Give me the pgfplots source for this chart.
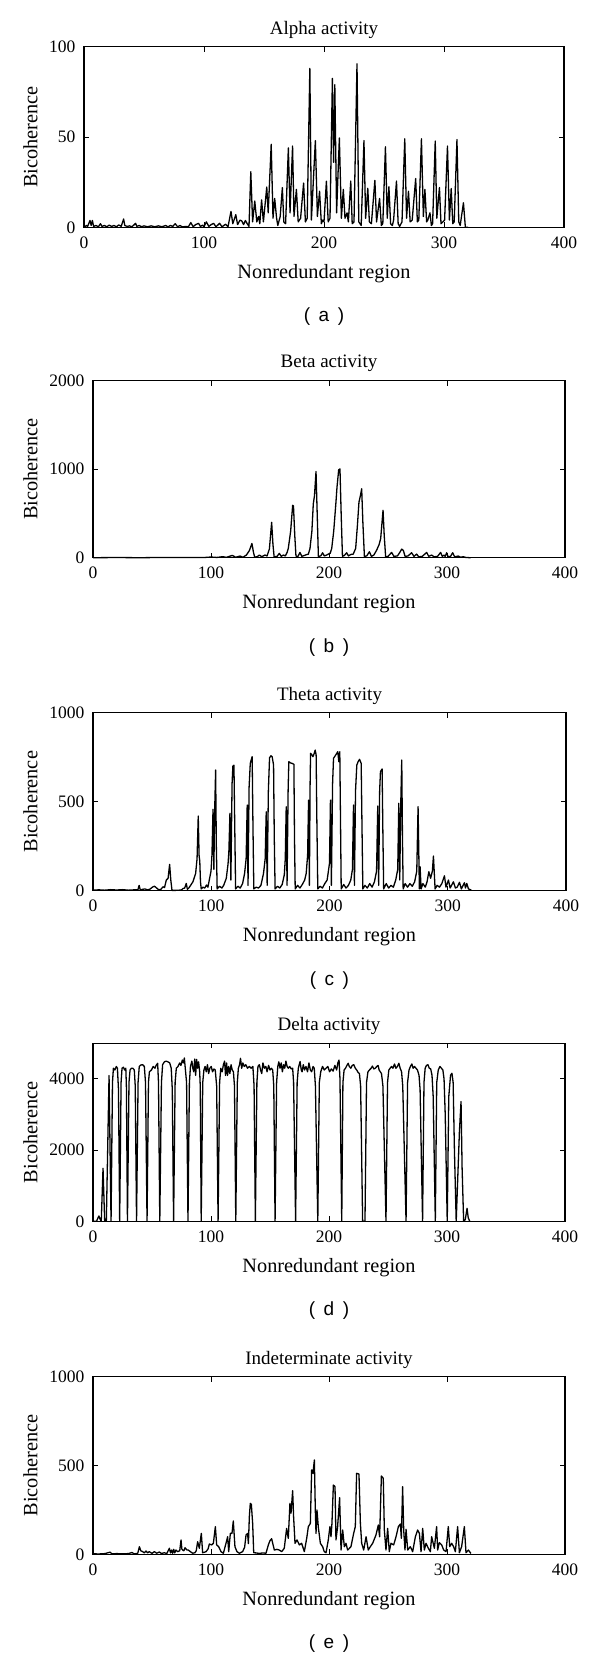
\documentclass[border=0pt]{standalone}
\usepackage{fontspec}
\setmainfont{Liberation Serif}
\newfontfamily\capfont{Liberation Sans}
\usepackage{pgfplots}
\pgfplotsset{compat=1.18}
\pgfplotsset{
 myaxis/.style={
  scale only axis,
  xmin=0, xmax=400, ymin=0,
  xtick={0,100,200,300,400},
  tick align=inside,
  axis line style={line width=1.1pt},
  every tick/.style={black, line width=0.9pt},
  major tick length=5pt,
  tick label style={font=\fontsize{17.5}{20}\selectfont},
  /pgf/number format/assume math mode=true,
  /pgf/number format/1000 sep={},
  scaled ticks=false,
  xlabel={Nonredundant region},
  ylabel={Bicoherence},
  every axis title/.style={at={(axis description cs:0.5,1)}, anchor=center, yshift=17pt},
  every axis x label/.style={at={(axis description cs:0.5,0)}, anchor=center, yshift=-46pt, font=\fontsize{20.3}{23}\selectfont},
  xticklabel style={yshift=-3pt},
  yticklabel style={xshift=-2pt},
  clip=false,
 },
 ylab/.style={every axis y label/.style={at={(axis description cs:0,0.5)}, anchor=center, xshift=-#1, rotate=90, font=\fontsize{20.3}{23}\selectfont}},
 dataline/.style={black, line width=1.3pt, line join=round},
}
\newcommand{\subcap}[2]{\node[font=\capfont\fontsize{19}{22}\selectfont] at ([yshift=-89.5pt]#1.south) {(\hspace{8.5pt}#2\hspace{8.5pt})};}
\begin{document}
\fontsize{19}{22}\selectfont
\begin{tikzpicture}
\path[use as bounding box] (0pt,0pt) rectangle (600pt,-1658pt);

% (a) Alpha
\begin{axis}[myaxis, name=pa, at={(84pt,-227.3pt)}, anchor=south west, width=480pt, height=180.6pt,
  ymax=100, ytick={0,50,100}, title={Alpha activity}, ylab=53.5pt]
\addplot[dataline] coordinates {
(0,0) (2,1) (3,0.5) (5,3.8) (6,1) (7,3.8) (8,0.5) (10,1) (12,0.3) (13.7,2) (15,0.5) (17,1) (19,0.3) (21,1.2) (23,0.5) (25,1) (27,0.3) (29,1.3) (31,0.5) (33,4.6) (34,1) (36,0.5) (38,0.8) (40,0.3) (43,2.2) (44,0.5) (46,1) (48,0.3) (50,0.8) (53,0.3) (56,0.8) (59,0.3) (62,0.8) (65,0.3) (68,1) (70,0.3) (72,1) (74,0.5) (76,2) (78,0.3) (80,1) (82,0.2) (85,0.5) (87,0.3) (89,2.6) (91,0.3) (93,1.5) (95.5,2.2) (97,0.5) (99,1.2) (100,0.3) (102,3) (104,0.5) (106,1.5) (108,2.2) (110,0.3) (113,2.2) (115,0.3) (118,1.7) (120,0.3) (122.5,8.8) (124,2) (126.5,7) (128,1.5) (130,4) (131.5,3.5) (133,1.5) (134.5,3.8) (136,2) (137.5,0.5)
(139,30.8) (140.5,3) (142.3,14.6) (144,3) (145.5,6) (146.5,2) (148,15.2) (149.5,3) (152.3,22.3) (153.5,8) (156,46) (157.5,5) (158.9,16) (160.5,5) (161.5,1) (163.5,6) (165.3,22) (166.5,3) (168,2) (170.3,44) (171.7,8) (173.8,45) (175,6) (177,21) (178.5,3) (180.5,5) (183,24.5) (184.5,3) (186,5) (188.2,88) (189.5,4) (192.8,48) (194.5,6) (196.3,20) (197.8,2) (199,4) (200,3) (202,25.5) (203.5,3) (205,5) (207,82.5) (208,36) (209,79) (210.5,8) (212.8,49.5) (214.5,5) (216.1,21) (217.5,5) (219.2,8) (220.3,3) (222.3,25.6) (223.5,2) (225,3) (227.5,90.5) (229,3) (231,1) (233.3,48) (234.7,5) (236.5,21.6) (237.8,3) (239.5,2) (242.4,26) (243.8,3) (246.3,16) (247.8,1) (249,2) (251.2,44.6) (252.7,5) (254.1,22.5) (255.5,2) (257,1) (258,4) (260.4,25.6) (261.8,2) (263,0.5) (265,3) (267.3,49) (268.8,5) (270.4,20) (271.8,3) (273.5,4) (276.4,27) (277.8,3) (279,4) (281.2,49) (282.8,6) (284.1,21) (285.5,3) (286.5,4) (288.3,8) (289.5,1) (290.5,2) (292.7,47.8) (294,5) (296.2,22) (297.5,2) (299,3) (300.5,4) (302.9,45) (304.5,4) (306,21.5) (307.3,2) (308.5,3) (310.8,48.6) (312.3,3) (313.5,1) (316.2,13.6) (317.8,0) (320,0)
};
\end{axis}
\subcap{pa}{a}

% (b) Beta
\begin{axis}[myaxis, name=pb, at={(93pt,-557.7pt)}, anchor=south west, width=472pt, height=177pt,
  ymax=2000, ytick={0,1000,2000}, title={Beta activity}, ylab=62.5pt]
\addplot[dataline] coordinates {
(0,0) (20,2) (40,0) (60,3) (80,2) (95,3) (100,8) (105,3) (110,12) (113,4) (118,26) (121,5) (124.6,19) (127,5) (130,30) (132.5,80) (134.7,161) (136,60) (137,8) (139,10) (141,30) (143,12) (145.8,30) (147.5,20) (149.5,100) (151.4,400) (152.5,150) (153.5,10) (156,15) (157.9,49) (159.5,15) (161.3,30) (163,20) (164.5,60) (165.5,105) (167.5,300) (169.2,592) (169.9,584) (171,250) (172,20) (173.5,10) (175.4,60) (177,15) (179,25) (181,35) (182.5,40) (183.9,105) (185.5,300) (186.7,610) (187.7,700) (189,974) (190.2,400) (191,15) (193,20) (194.6,56) (196,20) (198,30) (200,45) (201,50) (202.3,105) (204,300) (205.9,629) (206.8,800) (208.2,992) (209.3,1004) (210.3,500) (211.4,15) (213,25) (215,56) (216.5,20) (218.5,37) (220.5,40) (222.6,105) (224,350) (225.4,629) (226.6,700) (227.7,779) (228.7,400) (230,15) (232,20) (234.2,67) (236,15) (238,30) (240.4,86) (242.5,150) (243.8,217) (245.8,536) (246.8,250) (248,10) (250,15) (253.1,60) (255,15) (258,20) (260,60) (261.6,97) (263,82) (264.5,15) (267,20) (270,56) (272,15) (274.3,41) (276,10) (279,15) (282.8,60) (284.5,15) (287,30) (289,10) (292,15) (294.6,60) (296,15) (297.5,30) (298.5,15) (299.7,56) (301,10) (303,15) (304.8,56) (306.5,10) (309.6,19) (311.5,5) (313.8,11) (316,3) (319.5,0) (320,0)
};
\end{axis}
\subcap{pb}{b}

% (c) Theta
\begin{axis}[myaxis, name=pc, at={(93pt,-890.7pt)}, anchor=south west, width=473pt, height=178pt,
  ymax=1000, ytick={0,500,1000}, title={Theta activity}, ylab=62.5pt]
\addplot[dataline] coordinates {
(0,3) (5,5) (10,3) (15,6) (20,4) (25,6) (30,3) (35,5) (38,6) (39,30) (40,4) (42,8) (44,10) (46,5) (48,8) (50.7,22) (52,25) (53.5,17) (55,8) (57,5) (59.2,22) (60.5,18) (62,60) (63.5,70) (64.8,148) (65.8,60) (66.8,2) (70,2) (73,3) (75,5) (76,12) (77.5,15) (78.9,41) (79.8,8) (81,15) (82.5,30) (84.5,50) (86.8,97) (88,180) (89,420) (89.7,200) (90.3,165) (90.9,50) (91.5,10) (93,20) (94.5,15) (96,32) (97.2,20) (98.6,69) (99.8,110) (100.6,200) (101.5,457) (102.2,120) (102.9,450) (103.7,678) (104.3,250) (105,10) (107,25) (109,15) (110.5,30) (112.7,69) (114.2,150) (114.9,219) (115.8,435) (116.6,60) (117.6,600) (118.3,700) (119.2,705) (119.9,350) (120.6,10) (122.5,25) (124.5,15) (126.5,40) (128.2,97) (129.5,180) (130.4,481) (131.1,30) (132,580) (133,715) (134,740) (134.6,753) (135.3,350) (136,10) (138,20) (140,15) (142,30) (144.2,97) (145.6,180) (146.5,444) (147.3,30) (148.3,560) (149.3,747) (150.5,758) (151.5,753) (152.7,706) (153.3,300) (154,10) (156,25) (158,15) (160,35) (161.8,90) (162.6,180) (163.4,472) (164.1,30) (165,560) (165.6,725) (167,718) (168.5,715) (169.9,710) (170.4,300) (171,10) (173,30) (175,15) (177,35) (179,60) (180.3,97) (181.5,200) (182.3,509) (183,30) (183.6,600) (184,772) (185,765) (186,753) (187,770) (187.9,790) (188.7,762) (189.3,400) (190.1,10) (192,25) (194,15) (196,40) (198,60) (200,154) (200.8,509) (201.6,30) (202.6,600) (203.4,744) (204.5,755) (205.6,766) (207,781) (207.9,725) (208.7,781) (209.3,400) (209.9,10) (212,35) (214,15) (216,30) (218,60) (219.4,120) (220.3,481) (221.1,30) (222,560) (223.1,706) (224.2,725) (225.4,738) (226.8,715) (227.5,350) (228.2,10) (230,30) (232,15) (234,40) (236,20) (238,50) (239.8,110) (240.8,476) (241.6,30) (242.4,560) (243.1,669) (244.5,684) (245.1,350) (245.8,10) (248,40) (250,15) (252,30) (254,20) (256,60) (257.7,120) (258.6,491) (259.4,60) (260.3,500) (261.1,734) (261.7,300) (262.3,10) (264,40) (266,20) (268,40) (270,25) (272,50) (273.8,110) (274.9,472) (276,10) (276.6,135) (277.5,10) (279,40) (281,20) (282.5,50) (284,107) (285.5,70) (287,110) (287.9,195) (289.3,10) (291,30) (293,20) (295,40) (297.2,84) (298.5,20) (300.6,60) (302,15) (304.8,50) (306.5,15) (308,20) (309.9,47) (311.5,10) (314.1,45) (315,15) (316.1,41) (317.5,10) (318.3,8) (320,3)
};
\end{axis}
\subcap{pc}{c}

% (d) Delta
\begin{axis}[myaxis, name=pd, at={(93pt,-1221.3pt)}, anchor=south west, width=472pt, height=178pt,
  ymax=5000, ytick={0,2000,4000}, title={Delta activity}, ylab=62.5pt]
\addplot[dataline] coordinates {
(0,0) (3,0) (4,80) (5,150) (6,60) (7,0) (8.5,1490) (9.9,0) (11.3,0) (13.6,4095) (15.3,0)
(16.5,3900) (17.3,4300) (18.5,4250) (19.8,4350) (20.7,4300) (21.6,3700) (22.6,0)
(23.8,3900) (24.6,4300) (25.8,4330) (26.8,4250) (27.8,4300) (28.3,3800) (29.2,0)
(30.5,3900) (31.4,4250) (32.5,4300) (33.8,4300) (35,4250) (35.8,3800) (36.9,0)
(38.2,3900) (39.2,4350) (40.5,4390) (42,4400) (43.5,4350) (44.5,3900) (45.8,0)
(47,3900) (47.8,4200) (49.5,4250) (51,4350) (52.5,4300) (53.5,4380) (54.8,4440) (55.5,3900) (56.6,0)
(58,3900) (59,4400) (60.5,4480) (62,4500) (63.5,4480) (65,4450) (66.3,4300) (67.2,3700) (68.3,0)
(69.6,3900) (70.6,4300) (72,4350) (73.5,4450) (74.5,4380) (75.7,4530) (76.6,4450) (77.4,4590) (78.2,4300) (79.3,3900) (80.5,0)
(81.7,3900) (82.6,4350) (83.8,4500) (84.6,4300) (85.4,4200) (86.2,4560) (87,4100) (87.8,4550) (88.6,4300) (89.5,4480) (90.4,4200) (90.9,3800) (91.7,0)
(93,3900) (94,4250) (95,4350) (96,4200) (97,4400) (98,4150) (99,4300) (100.2,4350) (101.3,4200) (102.5,4280) (103.6,4250) (104.8,3800) (106,0)
(107.3,3900) (108.3,4300) (109.5,4200) (110.5,4400) (111.5,4500) (112.3,4100) (113.2,4450) (114,4100) (115,4350) (116,4150) (117,4400) (118,4250) (119,4200) (119.9,3800) (121,0)
(122.3,3900) (123.2,4300) (124.2,4400) (125,4580) (126,4300) (127,4450) (128.2,4350) (129.5,4400) (131,4300) (132.5,4350) (134,4300) (135.5,4350) (136.5,3800) (137.6,0)
(138.9,3900) (139.8,4350) (141,4400) (142,4250) (143,4150) (144,4450) (145.2,4300) (146.5,4350) (147.5,4200) (148.8,4380) (150,4250) (151.2,4300) (152.3,4250) (153.2,3800) (154.3,0)
(155.6,3900) (156.6,4350) (157.5,4480) (158.5,4300) (159.5,4450) (160.5,4200) (161.5,4400) (162.5,4300) (163.5,4500) (164.5,4350) (165.5,4300) (166.7,4350) (168,4280) (169.2,4300) (170,3900) (171.7,0)
(173,3900) (174,4300) (175.5,4490) (176.5,4250) (177.2,4200) (178.2,4400) (179.3,4250) (180.5,4350) (181.8,4200) (183,4450) (184.2,4250) (185.3,4200) (186.5,4350) (187.5,4300) (188.5,3800) (190.5,0)
(191.8,3900) (193,4200) (194.5,4350) (196,4250) (197.5,4300) (199,4350) (200.5,4200) (202,4280) (203.5,4220) (205,4380) (206.5,4250) (207.5,4450) (208.5,4530) (209.3,4000) (210.8,0)
(211.8,3900) (212.8,4250) (214,4300) (215.2,4380) (216.3,4440) (217.2,4350) (218.5,4300) (219.7,4380) (221,4400) (222.3,4300) (223.5,4250) (224.7,4180) (225.8,4150) (226.8,3800) (228.5,0) (230.5,0)
(231.8,3900) (233,4200) (234.5,4260) (235.7,4300) (236.8,4360) (238,4280) (239.2,4300) (240.5,4350) (241.6,4380) (242.5,4250) (243.5,4200) (244.5,4150) (245.7,3800) (248.3,0)
(249.6,3900) (250.7,4250) (251.8,4300) (253,4350) (254.2,4300) (255.5,4420) (256.7,4300) (258,4350) (259.2,4440) (260.3,4300) (261.5,4200) (262.5,3800) (265.3,0)
(266.6,3900) (267.8,4250) (269,4350) (270.2,4420) (271.3,4300) (272.5,4350) (273.7,4300) (275,4250) (276.3,4100) (277.2,3700) (279.3,0)
(280.5,3900) (281.5,4300) (282.6,4380) (283.8,4400) (285,4300) (286.2,4280) (287.3,4100) (288.3,3500) (290.1,0)
(291.3,3900) (292.6,4250) (294,4350) (295.3,4300) (296.5,4250) (297.5,4000) (298.5,3000) (300.2,0)
(301.5,3500) (303,4100) (304.2,4160) (305.2,3900) (306.3,2000) (307.8,0) (310.5,2500) (311.9,3364) (312.8,1500) (314.1,0) (315.5,50) (317,365) (318,100) (319.3,0)
};
\end{axis}
\subcap{pd}{d}

% (e) Indeterminate
\begin{axis}[myaxis, name=pe, at={(93pt,-1554.3pt)}, anchor=south west, width=472pt, height=177.6pt,
  ymax=1000, ytick={0,500,1000}, title={Indeterminate activity}, ylab=62.5pt]
\addplot[dataline] coordinates {
(0,3) (5,2) (10,4) (14.5,12) (16,3) (20,4) (25,3) (30,4) (33,10) (35,3) (37.9,5) (39.3,43) (40.5,20) (42.1,15) (43.5,8) (44.9,19) (46.3,8) (47.7,15) (50,5) (52,15) (54,6) (56.2,13) (58,5) (60.5,9) (62.5,4) (64.7,34) (65.7,8) (66.7,24) (67.5,6) (68.4,28) (69.3,8) (70.3,24) (71.8,15) (73.5,20) (74.6,81) (75.3,30) (76,24) (77,20) (78,37) (79.5,25) (80.8,24) (82.5,15) (84.5,6) (86.4,9) (87.5,20) (88.7,71) (90.1,34) (91.8,118) (92.9,9) (94.5,12) (95.8,15) (97.5,30) (98.6,58) (100.6,53) (102,62) (103.7,156) (104.8,53) (106.5,43) (108.5,15) (110.5,6) (112.7,62) (114.1,99) (115,15) (116.4,118) (117.8,118) (118.9,188) (120.3,43) (122,15) (124,6) (126.8,15) (128.5,40) (129.7,109) (131,118) (131.7,60) (132.5,212) (133.3,287) (134.2,281) (135.3,174) (136.2,9) (138,8) (141,5) (144,8) (146.6,6) (148.6,53) (150,77) (151.4,88) (152.3,62) (153.7,24) (155.9,28) (157.9,24) (159.9,15) (162.1,34) (164.1,146) (165.5,90) (166.9,287) (167.8,231) (169.2,358) (170,212) (171.2,62) (172.9,81) (174.9,53) (176.8,62) (179.1,15) (181.1,90) (182.5,156) (184.2,174) (185.3,475) (186.4,456) (187.6,531) (188.4,250) (189,118) (189.8,250) (191,150) (192.7,62) (194.6,43) (196,15) (197.5,9) (199.4,81) (200.8,156) (201.7,99) (202.5,174) (203.7,390) (205.1,381) (205.9,81) (207.3,156) (209,319) (210.2,24) (211.6,137) (213,43) (214.4,62) (215.8,24) (218.6,43) (220.9,118) (222.3,156) (223.4,456) (225.4,452) (226.6,174) (227.7,62) (229.4,24) (231.4,99) (233.3,24) (235,43) (237,62) (239.8,109) (241.8,165) (242.9,99) (244.4,441) (246,428) (246.9,137) (248.3,24) (249.7,146) (251.1,15) (252.5,62) (254.8,53) (256.8,99) (258.8,156) (260.5,171) (261.3,90) (262.4,381) (263.3,137) (264.4,24) (265.3,141) (266.7,24) (268.9,43) (270.9,15) (273.2,99) (275.1,137) (276.6,118) (278,15) (279.4,146) (280.8,24) (282.2,62) (284.2,34) (285.9,15) (287,99) (289.3,34) (291.2,156) (292.1,24) (293.5,66) (295.5,53) (297.2,24) (299.2,15) (301.1,156) (302.3,43) (304,62) (305.6,43) (307.1,15) (309,156) (310.5,9) (312.4,43) (314.7,156) (316.1,9) (318.1,24) (320.3,5)
};
\end{axis}
\subcap{pe}{e}
\end{tikzpicture}
\end{document}
